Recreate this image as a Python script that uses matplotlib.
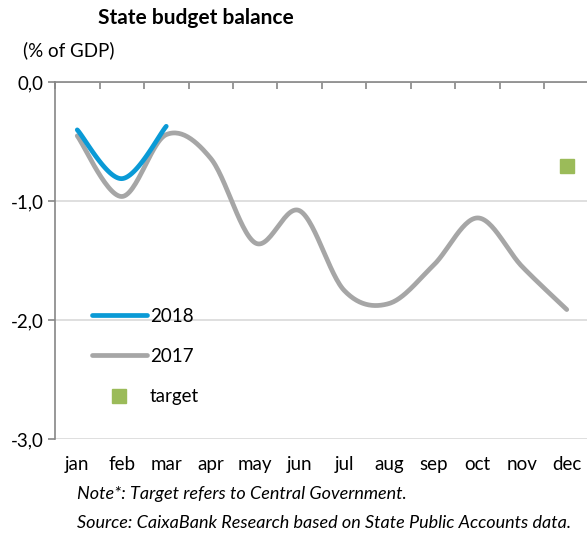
import numpy as np
import matplotlib
matplotlib.use("Agg")
import matplotlib.pyplot as plt
from matplotlib.ticker import FuncFormatter, FixedLocator
from matplotlib.lines import Line2D

plt.rcParams['font.family'] = ['Lato', 'DejaVu Sans']

months = ['jan', 'feb', 'mar', 'apr', 'may', 'jun',
          'jul', 'aug', 'sep', 'oct', 'nov', 'dec']
bal_2017 = [-0.45, -0.96, -0.44, -0.64, -1.35, -1.08,
            -1.75, -1.86, -1.54, -1.14, -1.55, -1.91]
bal_2018 = [-0.40, -0.81, -0.37]
target_month = 'dec'
target_value = -0.70

c_2018 = '#0A9AD6'
c_2017 = '#A6A6A6'
c_target = '#9BBB59'
fs = 13.5


def smooth(x, y, n=30):
    # excel-style smoothed line: cubic bezier with catmull-rom control points
    x = np.asarray(x, float)
    y = np.asarray(y, float)
    pts = np.column_stack([x, y])
    ext = np.vstack([pts[0], pts, pts[-1]])
    out = [pts[:1]]
    t = np.linspace(0, 1, n)[1:, None]
    for i in range(len(pts) - 1):
        p0, p1, p2, p3 = ext[i], ext[i + 1], ext[i + 2], ext[i + 3]
        c1 = p1 + (p2 - p0) / 6
        c2 = p2 - (p3 - p1) / 6
        seg = ((1 - t) ** 3) * p1 + 3 * ((1 - t) ** 2) * t * c1 \
            + 3 * (1 - t) * t ** 2 * c2 + t ** 3 * p2
        out.append(seg)
    s = np.vstack(out)
    return s[:, 0], s[:, 1]


xpos = np.arange(len(months)) + 0.5

fig = plt.figure(figsize=(5.87, 5.37), dpi=100)
ax = fig.add_axes([0.0937, 0.182, 0.9097, 0.6648])

sx, sy = smooth(xpos, bal_2017)
ax.plot(sx, sy, color=c_2017, lw=3.4, solid_capstyle='round', zorder=3)
sx, sy = smooth(xpos[:len(bal_2018)], bal_2018)
ax.plot(sx, sy, color=c_2018, lw=3.4, solid_capstyle='round', zorder=4)
ax.plot(xpos[months.index(target_month)], target_value, 's', ms=10.5,
        color=c_target, zorder=5)

ax.set_xlim(0, 12)
ax.set_ylim(-3, 0)
ax.set_yticks([0, -1, -2, -3])
ax.yaxis.set_major_formatter(FuncFormatter(lambda v, p: f'{v:.1f}'.replace('.', ',')))
ax.set_xticks(xpos)
ax.set_xticklabels(months)
ax.xaxis.set_minor_locator(FixedLocator(np.arange(0, 13)))

ax.tick_params(axis='x', which='major', length=0, pad=12, labelsize=fs,
               colors='#000000')
ax.tick_params(axis='x', which='minor', top=True, bottom=False,
               direction='in', length=5, width=1.2, color='#868686')
ax.tick_params(axis='y', which='major', direction='out', length=5, width=1.2,
               color='#868686', labelsize=fs, pad=3)

ax.yaxis.grid(True, color='#D9D9D9', lw=1.2)
ax.set_axisbelow(True)
for side in ['right', 'bottom']:
    ax.spines[side].set_visible(False)
for side in ['left', 'top']:
    ax.spines[side].set_color('#868686')
    ax.spines[side].set_linewidth(1.2)

handles = [Line2D([], [], color=c_2018, lw=3.4, solid_capstyle='round'),
           Line2D([], [], color=c_2017, lw=3.4, solid_capstyle='round'),
           Line2D([], [], color=c_target, marker='s', ls='none', ms=10.5)]
ax.legend(handles, ['2018', '2017', 'target'], loc='upper left',
          bbox_to_anchor=(0.055, 0.39), frameon=False, fontsize=fs,
          handlelength=2.93, handletextpad=0.15, labelspacing=1.25,
          borderaxespad=0)

fig.text(0.334, 0.966, 'State budget balance', ha='center', va='center',
         fontsize=15, fontweight='bold')
fig.text(0.039, 0.907, '(% of GDP)', ha='left', va='center', fontsize=fs)
fig.text(0.131, 0.080, 'Note*: Target refers to Central Government.',
         ha='left', va='center', fontsize=13, style='italic')
fig.text(0.131, 0.026, 'Source: CaixaBank Research based on State Public Accounts data.',
         ha='left', va='center', fontsize=13, style='italic')

fig.savefig('out.png', dpi=100)
